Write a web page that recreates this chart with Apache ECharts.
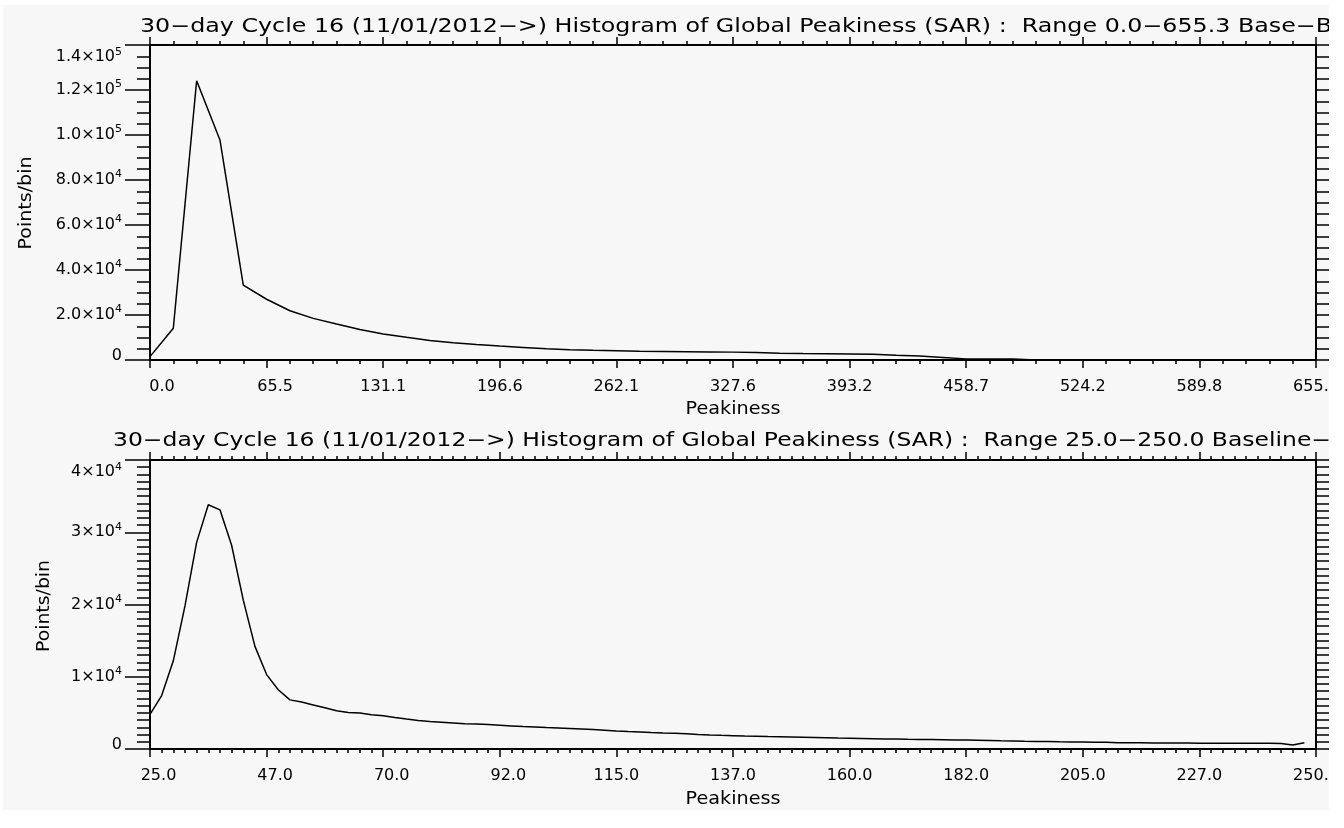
<!DOCTYPE html>
<html><head><meta charset="utf-8">
<script src="https://cdn.jsdelivr.net/npm/echarts@6/dist/echarts.min.js"></script>
<style>
html,body{margin:0;padding:0;background:#fff;width:1344px;height:828px;overflow:hidden}
#chart{position:absolute;left:3px;top:5px;width:1326px;height:805px;}
</style></head>
<body><div id="chart"></div>
<script>
// ---------------- DATA ----------------
const TOP_TITLE = '30\u2212day Cycle 16 (11/01/2012\u2212>) Histogram of Global Peakiness (SAR) :  Range 0.0\u2212655.3 Base\u2212B';
const BOTTOM_TITLE = '30\u2212day Cycle 16 (11/01/2012\u2212>) Histogram of Global Peakiness (SAR) :  Range 25.0\u2212250.0 Baseline\u2212';
const X_NAME = 'Peakiness';
const Y_NAME = 'Points/bin';

// top histogram: 50 bins from 0.0, width 13.106
const TOP_BIN_START = 0;
const TOP_BIN_WIDTH = 13.106;
const TOP_COUNTS = [1500, 14100, 124100, 97800, 33300, 27000, 21900, 18500, 16000, 13600,
  11600, 10100, 8700, 7700, 6900, 6200, 5600, 5000, 4600, 4300,
  4100, 3900, 3800, 3700, 3600, 3500, 3300, 3050, 2900, 2800,
  2700, 2600, 2150, 1800, 1150, 500, 450, 400, 0, 0,
  0, 0, 0, 0, 0, 0, 0, 0, 0, 0];
const TOP_X_MIN = 0, TOP_X_MAX = 655.3, TOP_X_STEP = 65.53;
const TOP_X_LABELS = ['0.0','65.5','131.1','196.6','262.1','327.6','393.2','458.7','524.2','589.8','655.3'];
const TOP_Y_MAX = 140000, TOP_Y_STEP = 20000;
const TOP_Y_MANT = ['0','2.0','4.0','6.0','8.0','1.0','1.2','1.4'];
const TOP_Y_EXP  = ['','4','4','4','4','5','5','5'];

// bottom histogram: 100 bins from 25.0, width 2.25
const BOTTOM_BIN_START = 25;
const BOTTOM_BIN_WIDTH = 2.25;
const BOTTOM_COUNTS = [4800, 7400, 12200, 19800, 28600, 33800, 33100, 28200, 20600, 14200,
  10300, 8200, 6800, 6500, 6100, 5700, 5300, 5060, 4980, 4740,
  4600, 4370, 4150, 3960, 3800, 3700, 3600, 3500, 3450, 3400,
  3300, 3200, 3100, 3050, 2980, 2920, 2850, 2780, 2700, 2600,
  2500, 2420, 2350, 2280, 2220, 2180, 2100, 2020, 1950, 1900,
  1850, 1800, 1760, 1720, 1690, 1660, 1630, 1600, 1560, 1520,
  1490, 1460, 1430, 1400, 1370, 1340, 1320, 1300, 1280, 1260,
  1230, 1200, 1170, 1130, 1100, 1070, 1050, 1030, 1000, 980,
  960, 940, 920, 880, 860, 850, 840, 830, 820, 820,
  810, 800, 800, 790, 790, 780, 780, 770, 550, 850];
const BOTTOM_X_MIN = 25, BOTTOM_X_MAX = 250, BOTTOM_X_STEP = 22.5;
const BOTTOM_X_LABELS = ['25.0','47.0','70.0','92.0','115.0','137.0','160.0','182.0','205.0','227.0','250.0'];
const BOTTOM_Y_MAX = 40000, BOTTOM_Y_STEP = 10000;
const BOTTOM_Y_MANT = ['0','1','2','3','4'];
const BOTTOM_Y_EXP  = ['','4','4','4','4'];

// ---------------- STYLE ----------------
const FONT = 'DejaVu Sans';
const INK = '#000';
const BG = '#f7f7f7';
const axisLineStyle = {color: INK, width: 2};
const tickStyle = {color: INK, width: 1.5};

const mctx = document.createElement('canvas').getContext('2d');
function fitScale(str, size, target) {
  mctx.font = size + 'px "' + FONT + '"';
  return target / mctx.measureText(str).width;
}
function textEl(str, x, y, size, target, rotation, align) {
  return {
    type: 'text', x: x, y: y, rotation: rotation || 0,
    scaleX: fitScale(str, size, target), scaleY: 1, silent: true,
    style: {text: str, fontSize: size, fontFamily: FONT, fill: INK,
      align: align, textAlign: align, verticalAlign: 'middle', textVerticalAlign: 'middle'}
  };
}

const xRich = {
  p3: {fontSize: 16, fontFamily: FONT, color: INK, padding: [0, 0, 0, 24]},
  p4: {fontSize: 16, fontFamily: FONT, color: INK, padding: [0, 0, 0, 17]},
  p5: {fontSize: 16, fontFamily: FONT, color: INK}
};
function supStyle(pad) {
  return {fontSize: 11, fontFamily: FONT, color: INK, lineHeight: 11, verticalAlign: 'middle', padding: pad};
}
function mainStyle(pad) {
  return {fontSize: 16, fontFamily: FONT, color: INK, lineHeight: 16, verticalAlign: 'middle', padding: pad};
}
const yRich = {
  m: mainStyle([0, 0, 0, 0]),
  e: supStyle([0, 0, 11, 0]),
  mt: mainStyle([24, 0, 0, 0]),
  et: supStyle([14, 0, 0, 0]),
  z: mainStyle([0, 0, 8, 0])
};
function yFormatter(mant, exp, step, last) {
  return function (v) {
    const i = Math.round(v / step);
    if (mant[i] === undefined) return '';
    if (i === 0) return '{z|' + mant[i] + '}';
    if (i === last) return '{mt|' + mant[i] + '\u00d710}{et|' + exp[i] + '}';
    return '{m|' + mant[i] + '\u00d710}{e|' + exp[i] + '}';
  };
}
function xFormatter(labels, min, step) {
  return function (v) {
    const s = labels[Math.round((v - min) / step)];
    if (s === undefined) return '';
    const c = s.length <= 3 ? 'p3' : (s.length === 4 ? 'p4' : 'p5');
    return '{' + c + '|' + s + '}';
  };
}

function xAxisPair(g, min, max, step, minor, labels, labelMin) {
  const base = {
    type: 'value', gridIndex: g, min: min, max: max, interval: step,
    axisLine: {show: true, onZero: false, lineStyle: axisLineStyle},
    axisTick: {show: true, inside: false, length: 8, lineStyle: tickStyle},
    minorTick: {show: true, splitNumber: minor, length: 4, lineStyle: tickStyle},
    splitLine: {show: false}, minorSplitLine: {show: false}
  };
  return [
    Object.assign({}, base, {position: 'bottom', axisLabel: {show: true, margin: 19,
      showMinLabel: true, showMaxLabel: true, hideOverlap: false,
      fontSize: 16, fontFamily: FONT, color: INK,
      formatter: xFormatter(labels, labelMin, step), rich: xRich}}),
    Object.assign({}, base, {position: 'top', axisLabel: {show: false}})
  ];
}
function yAxisPair(g, max, step, minor, mant, exp) {
  const base = {
    type: 'value', gridIndex: g, min: 0, max: max, interval: step,
    axisLine: {show: true, onZero: false, lineStyle: axisLineStyle},
    axisTick: {show: true, inside: false, length: 25, lineStyle: tickStyle},
    minorTick: {show: true, splitNumber: minor, length: 13, lineStyle: tickStyle},
    splitLine: {show: false}, minorSplitLine: {show: false}
  };
  return [
    Object.assign({}, base, {position: 'left', axisLabel: {show: true, margin: 28,
      showMinLabel: true, showMaxLabel: true, hideOverlap: false,
      fontSize: 16, fontFamily: FONT, color: INK,
      formatter: yFormatter(mant, exp, step, mant.length - 1), rich: yRich}}),
    Object.assign({}, base, {position: 'right', axisLabel: {show: false}})
  ];
}

const topData = TOP_COUNTS.map((c, k) => [TOP_BIN_START + k * TOP_BIN_WIDTH, c]);
// bottom axis runs from 0 so that ticks start at its min; offset by BOTTOM_X_MIN
const bottomData = BOTTOM_COUNTS.map((c, k) => [BOTTOM_BIN_START - BOTTOM_X_MIN + k * BOTTOM_BIN_WIDTH, c]);

const chart = echarts.init(document.getElementById('chart'), null, {renderer: 'canvas'});
const option = {
  animation: false,
  backgroundColor: BG,
  grid: [
    {left: 147, top: 40, width: 1166, height: 315, containLabel: false, outerBoundsMode: 'none'},
    {left: 147, top: 455, width: 1166, height: 289, containLabel: false, outerBoundsMode: 'none'}
  ],
  xAxis: [].concat(
    xAxisPair(0, TOP_X_MIN, TOP_X_MAX, TOP_X_STEP, 5, TOP_X_LABELS, TOP_X_MIN),
    xAxisPair(1, 0, BOTTOM_X_MAX - BOTTOM_X_MIN, BOTTOM_X_STEP, 10, BOTTOM_X_LABELS, 0)
  ),
  yAxis: [].concat(
    yAxisPair(0, TOP_Y_MAX, TOP_Y_STEP, 4, TOP_Y_MANT, TOP_Y_EXP),
    yAxisPair(1, BOTTOM_Y_MAX, BOTTOM_Y_STEP, 10, BOTTOM_Y_MANT, BOTTOM_Y_EXP)
  ),
  series: [
    {type: 'line', xAxisIndex: 0, yAxisIndex: 0, data: topData, symbol: 'none', showSymbol: false,
      lineStyle: {color: INK, width: 1.5}, silent: true},
    {type: 'line', xAxisIndex: 2, yAxisIndex: 2, data: bottomData, symbol: 'none', showSymbol: false,
      lineStyle: {color: INK, width: 1.5}, silent: true}
  ],
  graphic: {elements: [
    textEl(TOP_TITLE, 137, 22.5, 19, 1192, 0, 'left'),
    textEl(BOTTOM_TITLE, 110, 436.5, 19, 1218, 0, 'left'),
    textEl(Y_NAME, 24, 198, 17, 93, Math.PI / 2, 'center'),
    textEl(Y_NAME, 42, 601, 17, 92, Math.PI / 2, 'center'),
    textEl(X_NAME, 730, 405, 17, 95, 0, 'center'),
    textEl(X_NAME, 730, 794.5, 17, 95, 0, 'center')
  ]}
};
chart.setOption(option);
</script></body></html>
